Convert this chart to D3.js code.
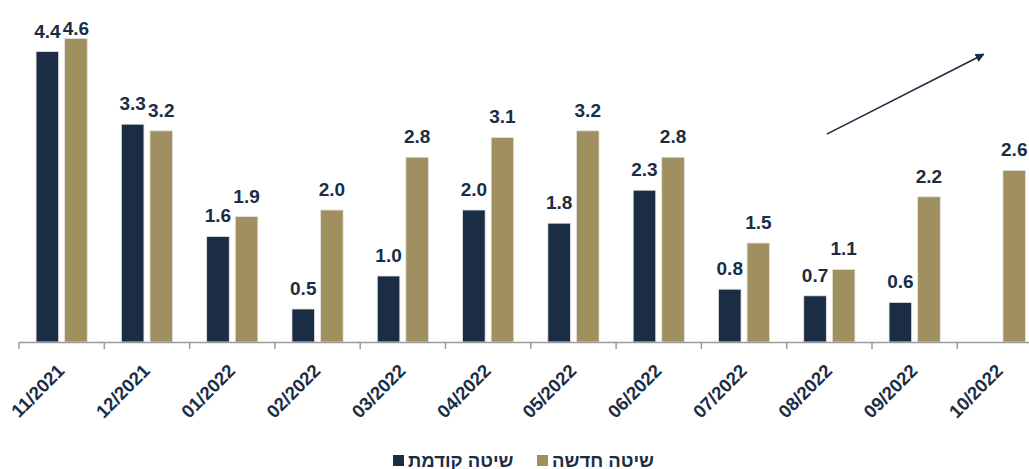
<!DOCTYPE html>
<html>
<head>
<meta charset="utf-8">
<script src="https://cdn.jsdelivr.net/npm/d3@7"></script>
<style>
  html, body { margin: 0; padding: 0; background: #fff; }
  svg { display: block; font-family: "Liberation Sans", Arial, sans-serif; }
</style>
</head>
<body>
<svg id="chart" width="1029" height="469"></svg>
<script>
// Monthly periods on the x axis
const categories = ["11/2021", "12/2021", "01/2022", "02/2022", "03/2022", "04/2022",
                    "05/2022", "06/2022", "07/2022", "08/2022", "09/2022", "10/2022"];
// Previous method (no value for the last month)
const oldMethod = [4.4, 3.3, 1.6, 0.5, 1.0, 2.0, 1.8, 2.3, 0.8, 0.7, 0.6, null];
// New method
const newMethod = [4.6, 3.2, 1.9, 2.0, 2.8, 3.1, 3.2, 2.8, 1.5, 1.1, 2.2, 2.6];
const seriesNames = ["שיטה קודמת", "שיטה חדשה"];
const seriesColors = ["#1b2d45", "#a08f5f"];
// Trend arrow, in data terms: [category, fraction of the step, value]
const arrowFrom = ["08/2022", 0.47, 3.15];
const arrowTo = ["10/2022", 0.31, 4.36];

const svg = d3.select("#chart");
const baseY = 342;
const left = 19;
const x0 = d3.scaleBand().domain(categories).range([left, left + 85.3 * categories.length])
  .paddingInner(0.4).paddingOuter(0.2);
const x1 = d3.scaleBand().domain([0, 1]).range([0, x0.bandwidth()]).paddingInner(0.21);
const y = d3.scaleLinear().domain([0, 5]).range([baseY, baseY - 66 * 5]);
const step = x0.step();

const rows = categories.map((c, i) => ({ cat: c, vals: [oldMethod[i], newMethod[i]] }));

const groups = svg.append("g").selectAll("g").data(rows).join("g")
  .attr("transform", d => `translate(${x0(d.cat)},0)`);

const items = groups.selectAll("g.item")
  .data(d => d.vals.map((v, s) => ({ v, s })).filter(e => e.v != null))
  .join("g").attr("class", "item");

items.append("rect")
  .attr("x", d => x1(d.s))
  .attr("width", x1.bandwidth())
  .attr("y", d => y(d.v))
  .attr("height", d => baseY - y(d.v))
  .attr("fill", d => seriesColors[d.s])
  .attr("stroke", "#e4e4e4")
  .attr("stroke-width", 0.8);

// Value labels above each bar, kept inside the top edge
items.append("text")
  .attr("x", d => x1(d.s) + x1.bandwidth() / 2)
  .attr("y", d => Math.max(y(d.v) - 14, 35))
  .attr("text-anchor", "middle")
  .attr("font-size", 19)
  .attr("font-weight", "bold")
  .attr("fill", "#1b2d45")
  .text(d => d.v.toFixed(1));

// Category axis: baseline with ticks on the band boundaries
const axisG = svg.append("g");
const bounds = d3.range(categories.length + 1).map(i => left + i * step);
axisG.append("line")
  .attr("x1", bounds[0]).attr("x2", bounds[bounds.length - 1])
  .attr("y1", baseY + 0.5).attr("y2", baseY + 0.5)
  .attr("stroke", "#9a9a9a").attr("stroke-width", 1.5);
axisG.selectAll("line.tick").data(bounds).join("line").attr("class", "tick")
  .attr("x1", d => d).attr("x2", d => d)
  .attr("y1", baseY).attr("y2", baseY + 7)
  .attr("stroke", "#9a9a9a").attr("stroke-width", 1.5);

axisG.selectAll("text").data(categories).join("text")
  .attr("transform", d => `translate(${x0(d) + x0.bandwidth() / 2 + 4},372) rotate(-45)`)
  .attr("text-anchor", "end")
  .attr("font-size", 18.5)
  .attr("font-weight", "bold")
  .attr("fill", "#1b2d45")
  .text(d => d);

// Trend arrow
const defs = svg.append("defs");
defs.append("marker").attr("id", "arrowHead")
  .attr("viewBox", "0 0 10 10").attr("refX", 9).attr("refY", 5)
  .attr("markerWidth", 9).attr("markerHeight", 9).attr("orient", "auto")
  .attr("markerUnits", "userSpaceOnUse")
  .append("path").attr("d", "M0,0 L10,5 L0,10 Z").attr("fill", "#1b2d45");
const ax = a => left + categories.indexOf(a[0]) * step + a[1] * step;
svg.append("line")
  .attr("x1", ax(arrowFrom)).attr("y1", y(arrowFrom[2]))
  .attr("x2", ax(arrowTo)).attr("y2", y(arrowTo[2]))
  .attr("stroke", "#1b2d45").attr("stroke-width", 1.6)
  .attr("marker-end", "url(#arrowHead)");

// Legend
const legend = svg.append("g");
const legendItems = [
  { name: seriesNames[0], color: seriesColors[0], x: 393 },
  { name: seriesNames[1], color: seriesColors[1], x: 537 }
];
legendItems.forEach(it => {
  legend.append("rect").attr("x", it.x).attr("y", 455).attr("width", 11).attr("height", 11)
    .attr("fill", it.color);
  legend.append("text").attr("x", it.x + 15).attr("y", 466.5)
    .attr("font-size", 18.5).attr("font-weight", "bold").attr("fill", "#1b2d45")
    .text(it.name);
});
</script>
</body>
</html>
